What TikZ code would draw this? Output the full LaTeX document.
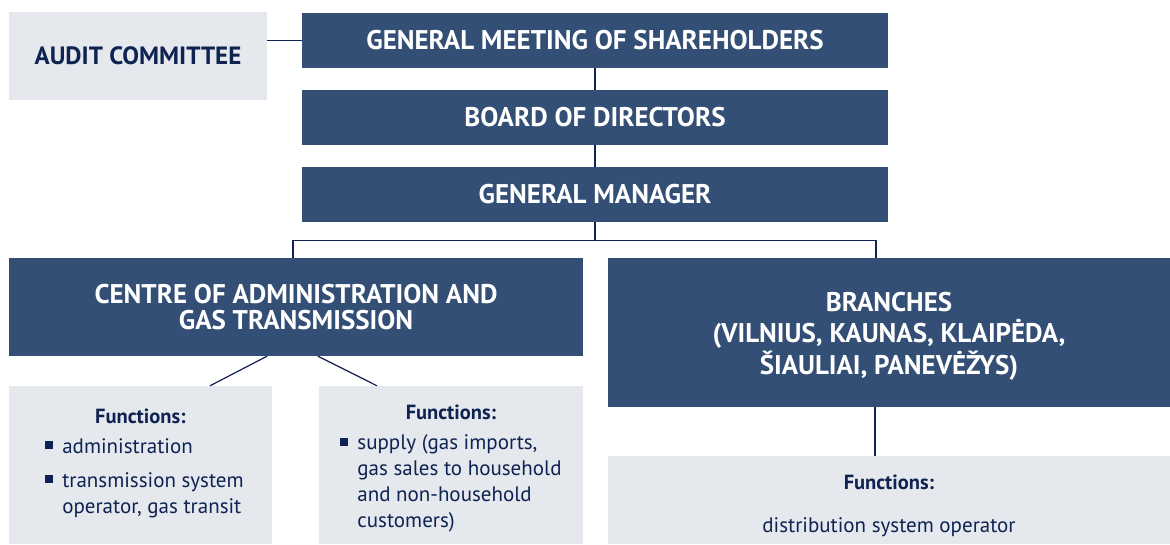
\documentclass[tikz,border=0pt]{standalone}
\usepackage{fontspec}
\setmainfont{PT Sans}
\usepackage{xcolor}
\usepackage{tikz}
\usetikzlibrary{positioning, calc}
\definecolor{boardcolor}{RGB}{52,79,117}
\definecolor{navycolor}{RGB}{14,35,82}
\definecolor{palecolor}{RGB}{229,232,237}
\newcommand{\fbul}{\raisebox{4pt}{\color{navycolor}\rule{8pt}{8pt}}}
\newcommand{\fhead}{{\fontsize{20.5}{26}\selectfont\bfseries Functions:}}

\begin{document}
\begin{tikzpicture}[
    x=1pt, y=-1pt,
    organ/.style={fill=boardcolor, text=white, inner sep=0pt, minimum width=#1, align=center, font=\fontsize{27}{31.5}\selectfont\bfseries},
    pale/.style={fill=palecolor, text=navycolor, inner sep=0pt, minimum width=#1, align=center, font=\fontsize{21}{26}\selectfont},
    conn/.style={draw=navycolor, line width=1.2pt}
]
    \useasboundingbox (0,0) rectangle (1170,544);

    % Governing bodies
    \node[pale=258pt, minimum height=88pt, font=\fontsize{25}{26}\selectfont\bfseries] (audit) at (138,56) {AUDIT COMMITTEE};
    \node[organ=586pt, minimum height=55pt] (gms) at (595,40.5) {GENERAL MEETING OF SHAREHOLDERS};
    \node[organ=586pt, minimum height=55pt] (board) at (595,117.5) {BOARD OF DIRECTORS};
    \node[organ=586pt, minimum height=55pt] (gm) at (595,194.5) {GENERAL MANAGER};

    % Units
    \node[organ=574pt, minimum height=98pt, font=\fontsize{27}{26}\selectfont\bfseries] (centre) at (296,307) {CENTRE OF ADMINISTRATION AND\\GAS TRANSMISSION};
    \node[organ=562pt, minimum height=149pt] (branches) at (889,332.5) {\rule{0pt}{26pt}BRANCHES\\(VILNIUS, KAUNAS, KLAIPĖDA,\\ŠIAULIAI, PANEVĖŽYS)};

    % Functions
    \node[pale=263pt, minimum height=158pt] (fleft) at (140.5,465) {\fhead\\[4pt]
        \hspace*{8pt}\begin{tabular}[t]{@{}l@{\hspace{9pt}}l@{}}
        \fbul & administration\\[8pt]
        \fbul & transmission system\\
              & operator, gas transit
        \end{tabular}};
    \node[pale=264pt, minimum height=158pt] (fmid) at (451,465) {\rule{0pt}{25pt}\fhead\\[4pt]
        \begin{tabular}[t]{@{}l@{\hspace{9pt}}l@{}}
        \fbul & supply (gas imports,\\
              & gas sales to household\\
              & and non-household\\
              & customers)
        \end{tabular}};
    \node[pale=562pt, minimum height=88pt] (fright) at (889,500) {\rule{0pt}{27pt}\fhead\\[17pt]distribution system operator};

    % Connectors
    \draw[conn] (audit.east |- gms.west) -- (gms.west);
    \draw[conn] (gms) -- (board);
    \draw[conn] (board) -- (gm);
    \draw[conn] (gm.south) -- ++(0,18) coordinate (split);
    \draw[conn] ([xshift=-3pt]centre.north) |- (split) -| ([xshift=-13pt]branches.north);
    \draw[conn] ([xshift=-29pt]centre.south) -- ([xshift=69.5pt]fleft.north);
    \draw[conn] ([xshift=22pt]centre.south) -- ([xshift=-74pt]fmid.north);
    \draw[conn] ([xshift=-14pt]branches.south) -- ([xshift=-14pt]fright.north);
\end{tikzpicture}
\end{document}
